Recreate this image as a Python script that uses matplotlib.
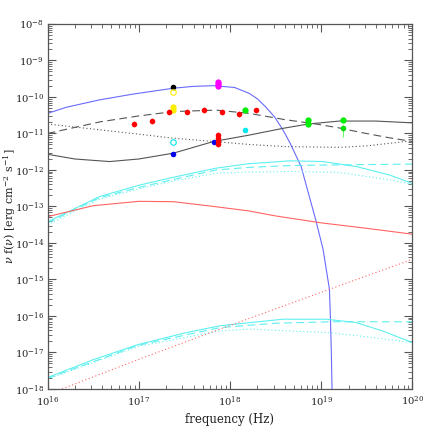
import numpy as np
import matplotlib
matplotlib.use("Agg")
import matplotlib.pyplot as plt
from matplotlib.ticker import LogLocator, NullFormatter

plt.rcParams['font.family'] = ['DejaVu Serif']
plt.rcParams['mathtext.fontset'] = 'dejavuserif'

# model curves as (log10 nu, log10 nu f(nu))
blue_x = [16.0, 16.21, 16.57, 16.94, 17.38, 17.6, 17.82, 18.05, 18.21, 18.3, 18.39, 18.49, 18.58, 18.66, 18.78, 18.94, 19.02, 19.09, 19.10, 19.11, 19.12]
blue_y = [-10.45, -10.28, -10.08, -9.92, -9.76, -9.71, -9.69, -9.74, -9.90, -10.05, -10.27, -10.55, -10.90, -11.27, -11.91, -13.37, -14.17, -15.27, -16.0, -16.91, -18.2]

blk_solid_x = [16.0, 16.3, 16.68, 17.0, 17.38, 17.82, 18.2, 18.58, 18.86, 19.2, 19.6, 20.0]
blk_solid_y = [-11.57, -11.70, -11.77, -11.70, -11.54, -11.22, -11.05, -10.86, -10.74, -10.66, -10.66, -10.71]

blk_dash_x = [16.0, 16.58, 17.0, 17.38, 17.85, 18.21, 18.6, 18.94, 19.2, 19.45, 19.75, 20.0]
blk_dash_y = [-11.0, -10.68, -10.52, -10.40, -10.36, -10.45, -10.62, -10.74, -10.85, -10.98, -11.12, -11.22]

blk_dot_x = [16.0, 16.5, 17.0, 17.38, 17.82, 18.2, 18.6, 19.2, 19.5, 19.75, 20.0]
blk_dot_y = [-10.74, -10.88, -11.02, -11.13, -11.22, -11.30, -11.36, -11.38, -11.34, -11.27, -11.20]

cyan_hi_solid_x = [16.0, 16.57, 17.0, 17.38, 17.85, 18.2, 18.66, 19.02, 19.39, 19.75, 20.0]
cyan_hi_solid_y = [-13.42, -12.73, -12.42, -12.20, -11.95, -11.83, -11.75, -11.77, -11.91, -12.14, -12.37]
cyan_hi_dash_x = [16.0, 16.57, 17.0, 17.38, 17.85, 18.2, 18.66, 19.2, 20.0]
cyan_hi_dash_y = [-13.45, -12.76, -12.48, -12.26, -12.00, -11.93, -11.88, -11.86, -11.84]
cyan_hi_dot_x = [16.0, 16.57, 17.0, 17.38, 17.85, 18.2, 18.66, 19.2, 19.75, 20.0]
cyan_hi_dot_y = [-13.50, -12.80, -12.52, -12.30, -12.09, -12.06, -12.04, -12.07, -12.27, -12.39]

cyan_lo_solid_x = [16.0, 16.5, 17.0, 17.5, 17.89, 18.58, 19.05, 19.38, 19.67, 20.0]
cyan_lo_solid_y = [-17.69, -17.20, -16.78, -16.47, -16.27, -16.09, -16.09, -16.18, -16.41, -16.73]
cyan_lo_dash_x = [16.0, 17.0, 17.89, 18.5, 19.1, 20.0]
cyan_lo_dash_y = [-17.71, -16.80, -16.32, -16.20, -16.16, -16.16]
cyan_lo_dot_x = [16.0, 17.0, 17.89, 18.21, 19.1, 19.49, 20.0]
cyan_lo_dot_y = [-17.73, -16.83, -16.41, -16.36, -16.46, -16.57, -16.73]

red_solid_x = [16.0, 16.5, 17.0, 17.38, 17.82, 18.2, 18.5, 19.0, 19.5, 20.0]
red_solid_y = [-13.28, -12.98, -12.86, -12.87, -13.0, -13.12, -13.26, -13.45, -13.60, -13.76]
red_dot_x = [16.16, 17.0, 17.89, 19.09, 20.0]
red_dot_y = [-18.0, -17.19, -16.36, -15.27, -14.45]

# measured points
red_nu = [8.9e16, 1.38e17, 2.14e17, 3.39e17, 5.25e17, 8.13e17, 1.26e18, 1.95e18,
          7.4e17, 7.4e17, 7.4e17, 7.4e17]
red_f = [1.78e-11, 2.14e-11, 3.89e-11, 3.98e-11, 4.37e-11, 3.80e-11, 3.39e-11, 4.27e-11,
         9.1e-12, 7.6e-12, 6.3e-12, 5.0e-12]
red_err = [0.08] * 12

black_nu, black_f = [2.4e17], [1.86e-10]
yellow_open_nu, yellow_open_f = [2.4e17], [1.35e-10]
yellow_nu, yellow_f = [2.4e17, 2.4e17], [5.2e-11, 4.4e-11]
magenta_nu, magenta_f = [7.4e17, 7.4e17, 7.4e17], [2.63e-10, 2.29e-10, 2.0e-10]
blue_nu, blue_f = [2.4e17, 6.6e17], [2.75e-12, 6.0e-12]
cyan_open_nu, cyan_open_f = [2.4e17], [6.0e-12]
cyan_nu, cyan_f = [1.45e18], [1.26e-11]
green_nu = [1.45e18, 7.2e18, 7.2e18, 1.74e19]
green_f = [4.4e-11, 2.3e-11, 1.86e-11, 2.3e-11]
green_err_nu, green_err_f = [1.74e19], [1.45e-11]
green_err_lo, green_err_hi = [6.5e-12], [2.5e-12]


def tp(x):
    return 10.0 ** np.asarray(x)


fig = plt.figure(figsize=(4.36, 4.36), dpi=100)
ax = fig.add_axes([0.109, 0.108, 0.837, 0.837])
ax.set_xscale('log')
ax.set_yscale('log')

lw = 0.8
c_blue = '#6a6aff'
c_blk = '#555555'
c_cyan = '#5ef0f0'
c_red = '#ff6464'
dash = (0, (7, 4))
dot = (0, (1, 2.2))

ax.plot(tp(blue_x), tp(blue_y), color=c_blue, lw=lw)
ax.plot(tp(blk_solid_x), tp(blk_solid_y), color=c_blk, lw=lw)
ax.plot(tp(blk_dash_x), tp(blk_dash_y), color=c_blk, lw=lw, ls=dash)
ax.plot(tp(blk_dot_x), tp(blk_dot_y), color=c_blk, lw=lw, ls=dot)
ax.plot(tp(cyan_hi_solid_x), tp(cyan_hi_solid_y), color=c_cyan, lw=lw)
ax.plot(tp(cyan_hi_dash_x), tp(cyan_hi_dash_y), color=c_cyan, lw=lw, ls=dash)
ax.plot(tp(cyan_hi_dot_x), tp(cyan_hi_dot_y), color=c_cyan, lw=lw, ls=dot)
ax.plot(tp(cyan_lo_solid_x), tp(cyan_lo_solid_y), color=c_cyan, lw=lw)
ax.plot(tp(cyan_lo_dash_x), tp(cyan_lo_dash_y), color=c_cyan, lw=lw, ls=dash)
ax.plot(tp(cyan_lo_dot_x), tp(cyan_lo_dot_y), color=c_cyan, lw=lw, ls=dot)
ax.plot(tp(red_solid_x), tp(red_solid_y), color=c_red, lw=lw)
ax.plot(tp(red_dot_x), tp(red_dot_y), color=c_red, lw=lw, ls=dot)

# points
rf = np.array(red_f)
re = np.array(red_err)
ax.errorbar(red_nu, rf, yerr=[rf - rf * 10 ** -re, rf * 10 ** re - rf], fmt='o',
            color='red', ecolor='#ff9090', ms=4, capsize=2, elinewidth=0.8, mew=0)
ax.errorbar(green_err_nu, green_err_f, yerr=[green_err_lo, green_err_hi], fmt='o',
            color='#00dd00', ecolor='#66ff66', ms=4, capsize=2, elinewidth=0.8, mew=0)
ax.plot(green_nu, green_f, 'o', color='#00ee00', ms=4.5, mew=0)
ax.plot(black_nu, black_f, 'o', color='black', ms=4, mew=0)
ax.plot(yellow_open_nu, yellow_open_f, 'o', mfc='none', mec='#ffee00', ms=4, mew=0.8)
ax.plot(yellow_nu, yellow_f, 'o', color='#ffee00', ms=4.5, mew=0)
ax.plot(magenta_nu, magenta_f, 'o', color='#ff00ff', ms=4.5, mew=0)
ax.plot(blue_nu, blue_f, 'o', color='#0000ee', ms=4, mew=0)
ax.plot(cyan_open_nu, cyan_open_f, 'o', mfc='none', mec='#00e8f0', ms=4, mew=0.8)
ax.plot(cyan_nu, cyan_f, 'o', color='#00e8f0', ms=4, mew=0)

ax.set_xlim(1e16, 1e20)
ax.set_ylim(1e-18, 1e-8)

ax.xaxis.set_major_locator(LogLocator(base=10, numticks=10))
ax.yaxis.set_major_locator(LogLocator(base=10, numticks=20))
ax.xaxis.set_minor_locator(LogLocator(base=10, subs=np.arange(2, 10), numticks=50))
ax.yaxis.set_minor_locator(LogLocator(base=10, subs=np.arange(2, 10), numticks=50))
ax.xaxis.set_minor_formatter(NullFormatter())
ax.yaxis.set_minor_formatter(NullFormatter())

ax.tick_params(which='both', direction='in', top=True, right=True, colors='#555555',
               labelcolor='#222222', labelsize=7.2)
ax.tick_params(which='major', length=6, width=0.8, pad=2.5)
ax.tick_params(axis='x', which='major', pad=4)
ax.tick_params(which='minor', length=3, width=0.6)
for s in ax.spines.values():
    s.set_color('#555555')
    s.set_linewidth(0.9)

ax.set_xlabel('frequency (Hz)', fontsize=8.5, color='#222222', labelpad=3)
ax.set_ylabel(r'$\nu$ f($\nu$) [erg cm$^{-2}$ s$^{-1}$]', fontsize=8, color='#222222',
              va='center')
ax.yaxis.set_label_coords(-0.105, 0.5)

fig.savefig('out.png', dpi=100)
